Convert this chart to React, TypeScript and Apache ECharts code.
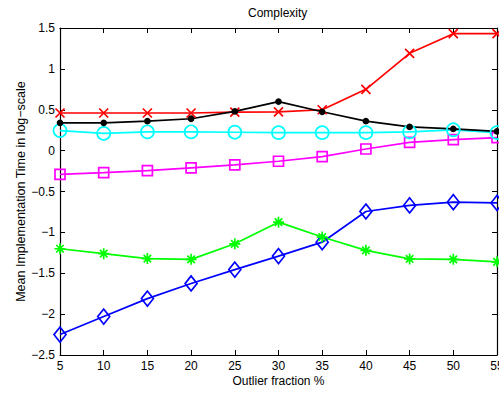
import React, { useEffect, useRef } from "react";
import * as echarts from "echarts";

// Outlier fraction (%) on the x axis
const outlierFractions = [5, 10, 15, 20, 25, 30, 35, 40, 45, 50, 55];

// Mean implementation time (log-scale) per method
const redCross = [0.46, 0.46, 0.46, 0.46, 0.47, 0.475, 0.5, 0.75, 1.19, 1.43, 1.43];
const blackDot = [0.34, 0.34, 0.36, 0.39, 0.48, 0.6, 0.475, 0.36, 0.29, 0.265, 0.235];
const cyanCircle = [0.245, 0.21, 0.23, 0.23, 0.225, 0.22, 0.22, 0.22, 0.23, 0.255, 0.22];
const magentaSquare = [-0.29, -0.27, -0.245, -0.21, -0.175, -0.13, -0.073, 0.02, 0.1, 0.135, 0.16];
const greenStar = [-1.2, -1.26, -1.32, -1.33, -1.14, -0.875, -1.057, -1.22, -1.325, -1.33, -1.36];
const blueDiamond = [-2.25, -2.03, -1.81, -1.625, -1.455, -1.29, -1.12, -0.745, -0.67, -0.63, -0.64];

const yTicks = { min: -2.5, max: 1.5, step: 0.5 };
const xTicks = { min: 5, max: 55, step: 5 };

const FONT = "'Liberation Sans', Arial, Helvetica, sans-serif";
const CROSS = "path://M0,0L10,10M10,0L0,10";
const STAR = "path://M5,0L5,10M0,5L10,5M1.6,1.6L8.4,8.4M8.4,1.6L1.6,8.4";

function pairs(values: number[]) {
  return values.map((v, i) => [outlierFractions[i], v]);
}

function lineSeries(
  name: string,
  values: number[],
  color: string,
  symbol: string,
  symbolSize: number | number[],
  filled = false
) {
  return {
    name,
    type: "line",
    data: pairs(values),
    symbol,
    symbolSize,
    showAllSymbol: true,
    clip: false,
    lineStyle: { color, width: 1.7 },
    itemStyle: {
      color: filled ? color : "transparent",
      borderColor: color,
      borderWidth: 1.7,
    },
    emphasis: { disabled: true },
  };
}

export default function App() {
  const ref = useRef<HTMLDivElement>(null);

  useEffect(() => {
    if (!ref.current) return;
    const chart = echarts.init(ref.current, undefined, { renderer: "svg" });

    const tickCommon = {
      show: true,
      inside: true,
      length: 5,
      lineStyle: { color: "#000", width: 1 },
    };
    const lineCommon = { show: true, onZero: false, lineStyle: { color: "#000", width: 1.2 } };

    chart.setOption({
      animation: false,
      backgroundColor: "#fff",
      textStyle: { fontFamily: FONT },
      title: {
        text: "Complexity",
        left: 248,
        top: 7,
        padding: 0,
        textStyle: { fontFamily: FONT, fontSize: 12, fontWeight: "normal", color: "#000" },
      },
      grid: {
        left: 60,
        right: 2,
        top: 28,
        bottom: 38,
        containLabel: false,
        outerBoundsMode: "none",
      },
      xAxis: [
        {
          type: "value",
          position: "bottom",
          min: xTicks.min,
          max: xTicks.max,
          interval: xTicks.step,
          axisLine: lineCommon,
          axisTick: tickCommon,
          splitLine: { show: false },
          axisLabel: { color: "#000", fontSize: 12, fontFamily: FONT, margin: 5, showMaxLabel: true },
          name: "Outlier fraction %",
          nameLocation: "middle",
          nameGap: 20,
          nameMoveOverlap: false,
          nameTextStyle: { color: "#000", fontSize: 12, fontFamily: FONT },
        },
        {
          type: "value",
          position: "top",
          min: xTicks.min,
          max: xTicks.max,
          interval: xTicks.step,
          axisLine: lineCommon,
          axisTick: tickCommon,
          splitLine: { show: false },
          axisLabel: { show: false },
        },
      ],
      yAxis: [
        {
          type: "value",
          position: "left",
          min: yTicks.min,
          max: yTicks.max,
          interval: yTicks.step,
          axisLine: lineCommon,
          axisTick: tickCommon,
          splitLine: { show: false },
          axisLabel: {
            color: "#000",
            fontSize: 12,
            fontFamily: FONT,
            margin: 5,
            formatter: (v: number) => String(v).replace("-", "\u2212"),
          },
          name: "Mean Implementation Time in log\u2212scale",
          nameLocation: "middle",
          nameRotate: 90,
          nameGap: 33,
          nameMoveOverlap: false,
          nameTextStyle: { color: "#000", fontSize: 12.5, fontFamily: FONT },
        },
        {
          type: "value",
          position: "right",
          min: yTicks.min,
          max: yTicks.max,
          interval: yTicks.step,
          axisLine: lineCommon,
          axisTick: tickCommon,
          splitLine: { show: false },
          axisLabel: { show: false },
        },
      ],
      series: [
        lineSeries("Magenta", magentaSquare, "#ff00ff", "rect", 10),
        lineSeries("Cyan", cyanCircle, "#00ffff", "circle", 13),
        lineSeries("Blue", blueDiamond, "#0000ff", "diamond", [12, 15]),
        lineSeries("Green", greenStar, "#00ff00", STAR, 11),
        lineSeries("Red", redCross, "#ff0000", CROSS, 9),
        lineSeries("Black", blackDot, "#000000", "circle", 5, true),
      ],
    });

    return () => chart.dispose();
  }, []);

  return (
    <div
      ref={ref}
      style={{ position: "absolute", left: 0, top: 0, width: 499, height: 393 }}
    />
  );
}
